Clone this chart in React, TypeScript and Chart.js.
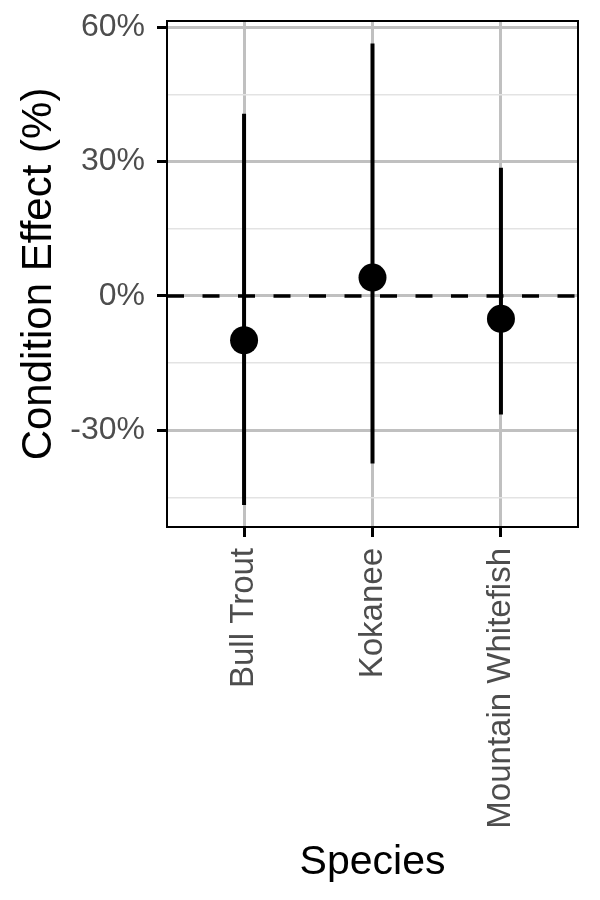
import React, { useEffect, useRef } from "react";
import { Chart, registerables } from "chart.js";

Chart.register(...registerables);

const CATEGORIES = ["Bull Trout", "Kokanee", "Mountain Whitefish"];
const ESTIMATE = [-9.9, 4.1, -5.1];
const LOWER = [-46.7, -37.4, -26.5];
const UPPER = [40.7, 56.4, 28.6];
const Y_MAJOR = [-30, 0, 30, 60];
const Y_MINOR = [-45, -15, 15, 45];
const Y_MIN = -51.6;
const Y_MAX = 61.4;
const REF_LINE = 0;

const FONT = "'Liberation Sans', Arial, Helvetica, sans-serif";
const MAJOR_GRID = "#c0c0c0";
const MINOR_GRID = "#e3e3e3";

const refLinePlugin = {
  id: "refLine",
  beforeDatasetsDraw(chart: any) {
    const { ctx, chartArea, scales } = chart;
    const y = scales.y.getPixelForValue(REF_LINE);
    ctx.save();
    ctx.beginPath();
    ctx.rect(chartArea.left, chartArea.top, chartArea.right - chartArea.left, chartArea.bottom - chartArea.top);
    ctx.clip();
    ctx.strokeStyle = "#000";
    ctx.lineWidth = 3.5;
    ctx.setLineDash([17, 18.5]);
    ctx.beginPath();
    ctx.moveTo(chartArea.left, y);
    ctx.lineTo(chartArea.right, y);
    ctx.stroke();
    ctx.restore();
  },
};

const borderPlugin = {
  id: "panelBorder",
  afterDraw(chart: any) {
    const { ctx, chartArea } = chart;
    ctx.save();
    ctx.strokeStyle = "#000";
    ctx.lineWidth = 2;
    ctx.strokeRect(chartArea.left, chartArea.top, chartArea.right - chartArea.left, chartArea.bottom - chartArea.top);
    ctx.restore();
  },
};

export default function App() {
  const ref = useRef<HTMLCanvasElement | null>(null);

  useEffect(() => {
    if (!ref.current) return;
    const errorBars = CATEGORIES.map((_, i) => ({
      type: "line" as const,
      data: [
        { x: i + 1, y: LOWER[i] },
        { x: i + 1, y: UPPER[i] },
      ],
      borderColor: "#000",
      borderWidth: 4,
      pointRadius: 0,
      order: 2,
    }));
    const chart = new Chart(ref.current, {
      type: "scatter",
      data: {
        datasets: [
          {
            type: "scatter",
            data: ESTIMATE.map((v, i) => ({ x: i + 1, y: v })),
            backgroundColor: "#000",
            borderColor: "#000",
            borderWidth: 0,
            pointRadius: 14,
            order: 1,
          } as any,
          ...errorBars,
        ],
      },
      options: {
        animation: false,
        responsive: false,
        devicePixelRatio: 1,
        layout: { padding: { top: 21, right: 22, left: 0, bottom: 0 } },
        plugins: { legend: { display: false }, tooltip: { enabled: false } },
        scales: {
          x: {
            type: "linear",
            min: 0.4,
            max: 3.6,
            afterBuildTicks: (s: any) => {
              s.ticks = CATEGORIES.map((_, i) => ({ value: i + 1 }));
            },
            afterFit: (s: any) => {
              s.height = 373;
              s.paddingLeft = 0;
              s.paddingRight = 0;
            },
            ticks: {
              autoSkip: false,
              minRotation: 90,
              maxRotation: 90,
              padding: 11,
              color: "#4d4d4d",
              font: { family: FONT, size: 33 },
              callback: (v: any) => CATEGORIES[Math.round(Number(v)) - 1] ?? "",
            },
            grid: {
              color: MAJOR_GRID,
              lineWidth: 3,
              tickColor: "#000",
              tickLength: 10,
              tickWidth: 3,
            },
            border: { display: false },
            title: {
              display: true,
              text: "Species",
              color: "#000",
              font: { family: FONT, size: 41 },
              padding: { top: 0, bottom: 13 },
            },
          },
          y: {
            type: "linear",
            min: Y_MIN,
            max: Y_MAX,
            afterBuildTicks: (s: any) => {
              s.ticks = [...Y_MAJOR, ...Y_MINOR].sort((a, b) => a - b).map((v) => ({ value: v }));
            },
            afterFit: (s: any) => {
              s.width = 167;
              s.paddingTop = 0;
              s.paddingBottom = 0;
            },
            ticks: {
              autoSkip: false,
              padding: 12,
              color: "#4d4d4d",
              font: { family: FONT, size: 32 },
              callback: (v: any) => (Y_MAJOR.includes(Number(v)) ? `${v}%` : ""),
            },
            grid: {
              color: (c: any) => (Y_MAJOR.includes(c.tick?.value) ? MAJOR_GRID : MINOR_GRID),
              lineWidth: (c: any) => (Y_MAJOR.includes(c.tick?.value) ? 3 : 1.5),
              tickColor: (c: any) => (Y_MAJOR.includes(c.tick?.value) ? "#000" : "rgba(0,0,0,0)"),
              tickLength: 10,
              tickWidth: 3,
            },
            border: { display: false },
            title: {
              display: true,
              text: "Condition Effect (%)",
              color: "#000",
              font: { family: FONT, size: 42 },
              padding: { top: 14, bottom: 0 },
            },
          },
        },
      } as any,
      plugins: [refLinePlugin, borderPlugin],
    });
    return () => chart.destroy();
  }, []);

  return (
    <div style={{ position: "absolute", left: 0, top: 0, width: 600, height: 900, background: "#fff" }}>
      <canvas ref={ref} width={600} height={900} style={{ width: 600, height: 900, display: "block" }} />
    </div>
  );
}
